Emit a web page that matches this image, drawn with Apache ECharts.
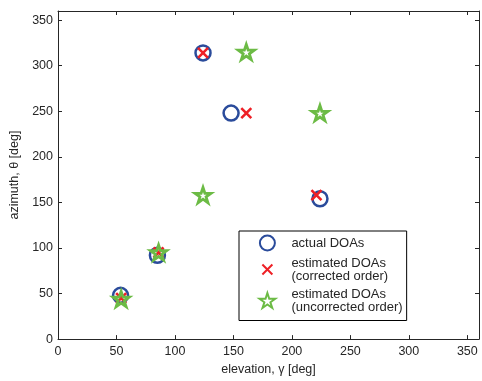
<!DOCTYPE html>
<html><head><meta charset="utf-8">
<script src="https://cdn.jsdelivr.net/npm/echarts@6/dist/echarts.min.js"></script>
<style>html,body{margin:0;padding:0;background:#fff}#c{width:482px;height:381px}</style>
</head><body><div id="c"></div>
<script>
const xTicks = [0, 50, 100, 150, 200, 250, 300, 350];
const yTicks = [0, 50, 100, 150, 200, 250, 300, 350];
const actualDOAs = [[53.5, 48], [85, 92], [124, 314], [148, 248], [224, 154]];
const correctedDOAs = [[54, 45], [86, 95], [124, 314], [161, 248], [221, 158]];
const uncorrectedDOAs = [[54, 44], [86, 95], [161, 315], [224, 248], [124, 158]];
const seriesNames = ['actual DOAs', 'estimated DOAs\n(corrected order)', 'estimated DOAs\n(uncorrected order)'];
const xName = 'elevation, γ [deg]';
const yName = 'azimuth, θ [deg]';

const FONT = 'Liberation Sans, Arial, Helvetica, sans-serif';
const TXT = '#262626';
const AX = '#262626';
const STAR = 'path://M10 0L12.25 6.91L19.51 6.91L13.63 11.18L15.88 18.09L10 13.82L4.12 18.09L6.37 11.18L0.49 6.91L7.75 6.91Z';
const XMARK = 'path://M0 0M15 15M2.5 2.5L12.5 12.5M12.5 2.5L2.5 12.5';

function mkAxis(pos, show, ticks, name) {
  const a = {
    type: 'value', position: pos, min: 0, max: 360, interval: 50,
    axisLine: { show: true, onZero: false, lineStyle: { color: AX, width: 1 } },
    axisTick: { show: true, inside: true, length: 4, customValues: ticks, lineStyle: { color: AX, width: 1 } },
    splitLine: { show: false },
    axisLabel: {
      show: show, customValues: ticks, margin: 6, color: TXT, fontSize: 12.5, fontFamily: FONT
    }
  };
  if (name) {
    a.name = name; a.nameLocation = 'middle';
    a.nameTextStyle = { color: TXT, fontSize: 12.5, fontFamily: FONT };
  }
  return a;
}

const xBottom = mkAxis('bottom', true, xTicks, xName); xBottom.nameGap = 21;
const xTop = mkAxis('top', false, xTicks);
const yLeft = mkAxis('left', true, yTicks, yName); yLeft.nameGap = 37; yLeft.axisLabel.margin = 5;
const yRight = mkAxis('right', false, yTicks);

const chart = echarts.init(document.getElementById('c'));
chart.setOption({
  animation: false,
  backgroundColor: '#fff',
  grid: { left: 55, top: 11, right: 3, bottom: 36, containLabel: false },
  xAxis: [xBottom, xTop],
  yAxis: [yLeft, yRight],
  legend: {
    left: 239, top: 231, orient: 'vertical',
    padding: [3.5, 4, 7, 19.5], itemGap: 5, itemWidth: 38, itemHeight: 15,
    symbolKeepAspect: true, selectedMode: false,
    backgroundColor: '#fff', borderColor: '#000', borderWidth: 1, borderRadius: 0,
    textStyle: { color: TXT, fontSize: 13, lineHeight: 13, fontFamily: FONT },
    data: seriesNames
  },
  series: [
    { name: seriesNames[0], type: 'scatter', data: actualDOAs, symbol: 'circle', symbolSize: 15,
      itemStyle: { color: 'rgba(0,0,0,0)', borderColor: '#2a4b9b', borderWidth: 2.5, opacity: 1 } },
    { name: seriesNames[1], type: 'scatter', data: correctedDOAs, symbol: XMARK, symbolSize: 15, symbolKeepAspect: true,
      itemStyle: { color: 'rgba(0,0,0,0)', borderColor: '#ee2026', borderWidth: 2.6, opacity: 1 } },
    { name: seriesNames[2], type: 'scatter', data: uncorrectedDOAs, symbol: STAR, symbolSize: 16, symbolKeepAspect: true,
      itemStyle: { color: 'rgba(0,0,0,0)', borderColor: '#6cbb45', borderWidth: 2.8, borderJoin: 'miter', opacity: 1 } }
  ]
});
</script></body></html>
